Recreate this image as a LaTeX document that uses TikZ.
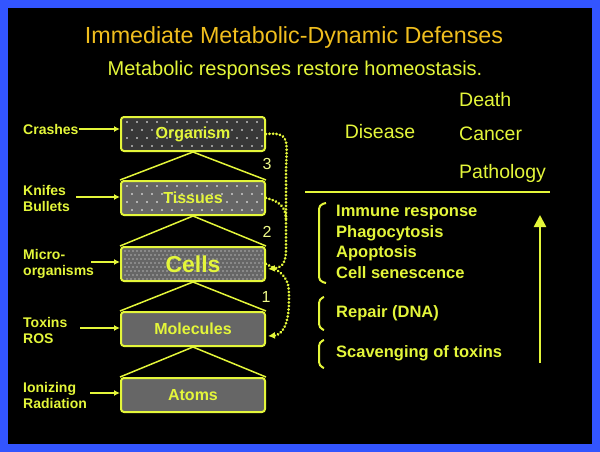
\documentclass[tikz,border=0pt]{standalone}
\usepackage{fontspec}
\setmainfont{Liberation Sans}
\usetikzlibrary{arrows.meta}
\definecolor{lime}{RGB}{228,246,58}
\definecolor{ttl}{RGB}{240,190,30}
\definecolor{frame}{RGB}{51,85,255}
\begin{document}
\begin{tikzpicture}[x=1pt,y=-1pt,
  box/.style={draw=lime,line width=2pt,rounded corners=3pt,minimum width=144,minimum height=34,text=lime,font=\bfseries\fontsize{16}{18}\selectfont},
  lbl/.style={text=lime,font=\bfseries\fontsize{14}{16}\selectfont,align=left,anchor=west,inner sep=0pt},
  itm/.style={text=lime,font=\bfseries\fontsize{16.5}{18}\selectfont,anchor=west,inner sep=0pt},
  rt/.style={text=lime,font=\fontsize{19.5}{21}\selectfont,inner sep=0pt},
  num/.style={text=lime!60!white,font=\fontsize{16}{18}\selectfont,inner sep=0pt},
  arr/.style={draw=lime,line width=1.5pt,-{Latex[length=6pt,width=6pt]}},
  dotted line/.style={draw=lime,line width=3pt,line cap=round,dash pattern=on 0.01pt off 3.5pt},
  dotarr/.style={dotted line,-{Latex[length=7pt,width=7pt]}},
  tri/.style={draw=lime,line width=1.5pt},
  brace/.style={draw=lime,line width=2pt,rounded corners=4pt}]
\useasboundingbox (0,0) rectangle (600,452);
\fill[frame] (0,0) rectangle (600,452);
\fill[black] (8,8) rectangle (592,444);
% title
\node[text=ttl,font=\fontsize{23.3}{26}\selectfont,inner sep=0pt] (title) at (294,37) {Immediate Metabolic-Dynamic Defenses};
\node[text=lime,font=\fontsize{20}{22}\selectfont,inner sep=0pt] (sub) at (295,70) {Metabolic responses restore homeostasis.};
% right texts
\node[rt] (disease) at (380,132) {Disease};
\node[rt,anchor=west] (death) at (459,100) {Death};
\node[rt,anchor=west] (cancer) at (459,134) {Cancer};
\node[rt,anchor=west] (path) at (459,173) {Pathology};
\coordinate (l1) at (305,192); \coordinate (l2) at (550,192);
\draw[lime,line width=2pt] (l1) -- (l2);
% boxes
\foreach \n/\y/\c in {org/117/black!78,tis/181/black!60,cel/247/black!60,mol/312/black!60,atm/378/black!60}{
  \fill[\c,rounded corners=3pt] (121,\y) rectangle (265,\y+34);
}
% dots
\begin{scope}
\clip (123,119) rectangle (263,149);
\foreach \i in {0,...,14} \foreach \j in {0,...,3} \fill[white] ({127+\i*10+mod(\j,2)*5},{122+\j*8}) circle[radius=0.8pt];
\end{scope}
\begin{scope}
\clip (123,183) rectangle (263,213);
\foreach \i in {0,...,14} \foreach \j in {0,...,3} \fill[white] ({127+\i*10+mod(\j,2)*5},{186+\j*8}) circle[radius=0.8pt];
\end{scope}
\begin{scope}
\clip (123,249) rectangle (263,279);
\foreach \i in {0,...,35} \foreach \j in {0,...,7} \fill[white] ({125+\i*4+mod(\j,2)*2},{251+\j*4}) circle[radius=0.7pt];
\end{scope}
\node[box] (org) at (193,134) {Organism};
\node[box] (tis) at (193,198) {Tissues};
\node[box,font=\bfseries\fontsize{23}{25}\selectfont] (cel) at (193,264) {Cells};
\node[box] (mol) at (193,329) {Molecules};
\node[box] (atm) at (193,395) {Atoms};
% triangles
\draw[tri] (tis.north west) -- (org.south) -- (tis.north east);
\draw[tri] (cel.north west) -- (tis.south) -- (cel.north east);
\draw[tri] (mol.north west) -- (cel.south) -- (mol.north east);
\draw[tri] (atm.north west) -- (mol.south) -- (atm.north east);
% left labels
\node[lbl] (crash) at (23,129) {Crashes};
\node[lbl] (knife) at (23,198) {Knifes\\Bullets};
\node[lbl] (micro) at (23,264) {Micro-\\organisms};
\node[lbl] (tox) at (23,330) {Toxins\\ROS};
\node[lbl] (ion) at (23,395) {Ionizing\\Radiation};
\coordinate (k0) at (76,197); \coordinate (m0) at (91,262);
\coordinate (t0) at (80,328); \coordinate (i0) at (90,393);
\draw[arr] (crash.east) -- (org.west |- crash.east);
\draw[arr] (k0) -- (tis.west |- k0);
\draw[arr] (m0) -- (cel.west |- m0);
\draw[arr] (t0) -- (mol.west |- t0);
\draw[arr] (i0) -- (atm.west |- i0);
% dotted curves
\draw[dotarr] (org.east) .. controls (290,132) and (287,140) .. (286,170) -- (286,250) .. controls (286,265) and (280,268) .. (268,269);
\draw[dotted line] (tis.east) .. controls (283,202) and (286,210) .. (286,220);
\draw[dotarr] (cel.east) .. controls (290,275) and (289,285) .. (289,300) .. controls (289,325) and (282,335) .. (268,336);
\node[num] (n3) at (267,164) {3};
\node[num] (n2) at (267,232) {2};
\node[num] (n1) at (266,297) {1};
% brackets
\draw[brace] (326,203) -- (319,205) -- (319,281) -- (326,283);
\draw[brace] (324,297) -- (319,299) -- (319,328) -- (324,330);
\draw[brace] (324,340) -- (319,342) -- (319,366) -- (324,368);
\node[itm] (i1) at (336,213) {Immune response};
\node[itm] (i2) at (336,233) {Phagocytosis};
\node[itm] (i3) at (336,253) {Apoptosis};
\node[itm] (i4) at (336,273) {Cell senescence};
\node[itm] (i5) at (336,313) {Repair (DNA)};
\node[itm] (i6) at (336,353) {Scavenging of toxins};
\coordinate (a1) at (540,363); \coordinate (a2) at (540,215);
\draw[draw=lime,line width=2.5pt,-{Triangle[length=12pt,width=12pt]}] (a1) -- (a2);
\end{tikzpicture}
\end{document}
